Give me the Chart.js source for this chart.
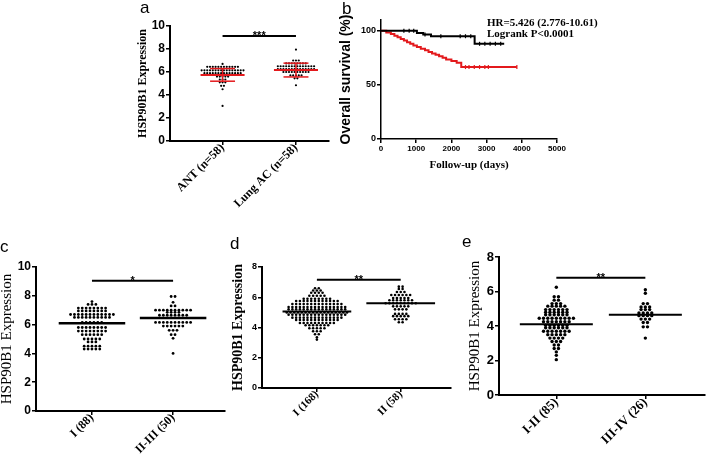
<!DOCTYPE html>
<html>
<head>
<meta charset="utf-8">
<title>HSP90B1 expression</title>
<script src="https://cdn.jsdelivr.net/npm/chart.js@4"></script>
<style>
  body { margin: 0; background: #fff; }
  #fig { position: relative; width: 709px; height: 454px; overflow: hidden; }
  #fig canvas { position: absolute; }
  .lbl { position: absolute; font-family: "Liberation Sans", Arial, sans-serif; font-size: 17px; line-height: 17px; }
  .note { position: absolute; font-family: "Liberation Serif", serif; font-weight: bold; font-size: 11px; line-height: 11px; white-space: nowrap; }
</style>
</head>
<body>
<div id="fig">
  <canvas id="chart-a" width="203" height="217" style="left:137px;top:0px"></canvas>
  <canvas id="chart-b" width="233" height="171" style="left:339px;top:0px"></canvas>
  <canvas id="chart-c" width="232" height="199" style="left:0px;top:255px"></canvas>
  <canvas id="chart-d" width="227" height="193" style="left:231px;top:255px"></canvas>
  <canvas id="chart-e" width="241" height="209" style="left:468px;top:245px"></canvas>
  <div class="lbl" style="left:140px;top:-1px">a</div>
  <div class="lbl" style="left:342px;top:0px">b</div>
  <div class="lbl" style="left:0px;top:238px">c</div>
  <div class="lbl" style="left:230px;top:235px">d</div>
  <div class="lbl" style="left:462px;top:233px">e</div>
  <div class="note" style="left:487px;top:17px">HR=5.426 (2.776-10.61)</div>
  <div class="note" style="left:487px;top:28px">Logrank P&lt;0.0001</div>
</div>
<script>
// ---- panel a: ANT vs lung AC ----
const aCategories = ['ANT (n=58)', 'Lung AC (n=58)'];
const aANT = [6.7,
  6.45, 6.45, 6.45, 6.45, 6.45, 6.45, 6.45, 6.45, 6.45, 6.45, 6.45, 6.45,
  6.15, 6.15, 6.15, 6.15, 6.15, 6.15, 6.15, 6.15, 6.15, 6.15, 6.15, 6.15, 6.15, 6.15, 6.15, 6.15,
  5.9, 5.9, 5.9, 5.9, 5.9, 5.9, 5.9, 5.9, 5.9, 5.9, 5.9, 5.9, 5.9, 5.9,
  5.6, 5.6, 5.6, 5.6, 5.6,
  5.35, 5.35, 5.35,
  5.1, 5.1, 5.1,
  4.8, 4.8,
  4.5,
  3.05];
const aLungAC = [7.95,
  7.0, 7.0, 7.0,
  6.75, 6.75, 6.75, 6.75, 6.75, 6.75, 6.75, 6.75,
  6.5, 6.5, 6.5, 6.5, 6.5, 6.5, 6.5, 6.5, 6.5, 6.5, 6.5, 6.5, 6.5, 6.5,
  6.25, 6.25, 6.25, 6.25, 6.25, 6.25, 6.25, 6.25, 6.25, 6.25, 6.25, 6.25, 6.25, 6.25,
  6.0, 6.0, 6.0, 6.0, 6.0, 6.0, 6.0, 6.0, 6.0, 6.0,
  5.7, 5.7, 5.7, 5.7, 5.7,
  5.45, 5.45,
  4.85];
const aMean = [5.75, 6.17];
const aSD = [0.55, 0.6];
const aYTicks = [0, 2, 4, 6, 8, 10];
const aSigLevel = 9.13;

// ---- panel b: overall survival ----
const bLowTimes = [0, 1020, 1200, 1420, 2660, 3500];
const bLowSurv = [100, 98, 96.5, 95, 88, 88];
const bLowCensor = [650, 800, 930, 1250, 1700, 2250, 2400, 2550, 2800, 2950, 3100, 3250, 3400];
const bHighTimes = [0, 150, 280, 380, 470, 560, 650, 740, 830, 920, 1020, 1130, 1250, 1350, 1450, 1550, 1650, 1750, 1850, 2000, 2150, 2280, 3860];
const bHighSurv = [100, 98.5, 97, 95.5, 94, 92.5, 91, 89.5, 88, 86.5, 85, 83.5, 82, 80.5, 79, 77.8, 76.5, 75, 73.5, 72, 70.5, 66.5, 66.5];
const bHighCensor = [2400, 2500, 2650, 2800, 2950, 3050, 3860];
const bXTicks = [0, 1000, 2000, 3000, 4000, 5000];
const bYTicks = [0, 50, 100];

// ---- panel c: stage I vs II-III ----
const cCategories = ['I (88)', 'II-III (50)'];
const cStageI = [7.6,
  7.4, 7.4, 7.4,
  7.15, 7.15, 7.15, 7.15, 7.15, 7.15, 7.15, 7.15,
  6.95, 6.95, 6.95, 6.95, 6.95, 6.95, 6.95, 6.95,
  6.7, 6.7, 6.7, 6.7, 6.7, 6.7, 6.7, 6.7, 6.7, 6.7, 6.7, 6.7,
  6.5, 6.5, 6.5, 6.5, 6.5, 6.5, 6.5, 6.5, 6.5, 6.5,
  6.15, 6.15, 6.15, 6.15, 6.15, 6.15,
  5.8, 5.8, 5.8, 5.8, 5.8, 5.8, 5.8, 5.8,
  5.55, 5.55, 5.55, 5.55, 5.55, 5.55, 5.55, 5.55,
  5.3, 5.3, 5.3, 5.3, 5.3, 5.3,
  5.0, 5.0, 5.0, 5.0, 5.0,
  4.8, 4.8, 4.8,
  4.5, 4.5, 4.5, 4.5, 4.5,
  4.3, 4.3, 4.3, 4.3, 4.3];
const cStageII = [7.95, 7.95,
  7.55,
  7.3, 7.3,
  7.0, 7.0, 7.0, 7.0, 7.0, 7.0, 7.0, 7.0, 7.0, 7.0,
  6.85, 6.85, 6.85, 6.85,
  6.65, 6.65, 6.65, 6.65, 6.65, 6.65, 6.65, 6.65,
  6.15, 6.15, 6.15, 6.15, 6.15, 6.15, 6.15, 6.15, 6.15, 6.15,
  5.9, 5.9, 5.9, 5.9, 5.9, 5.9,
  5.6, 5.6, 5.6,
  5.3, 5.3,
  5.05,
  4.0];
const cMean = [6.1, 6.45];
const cYTicks = [0, 2, 4, 6, 8, 10];
const cSigLevel = 9.05;

// ---- panel d: stage I vs II ----
const dCategories = ['I (168)', 'II (58)'];
const dStageI = [6.6, 6.6,
  6.45, 6.45, 6.45,
  6.3, 6.3, 6.3, 6.3,
  6.1, 6.1, 6.1, 6.1, 6.1,
  5.9, 5.9, 5.9, 5.9, 5.9, 5.9, 5.9, 5.9,
  5.75, 5.75, 5.75, 5.75, 5.75, 5.75, 5.75, 5.75, 5.75, 5.75, 5.75, 5.75,
  5.55, 5.55, 5.55, 5.55, 5.55, 5.55, 5.55, 5.55, 5.55, 5.55, 5.55, 5.55, 5.55, 5.55,
  5.35, 5.35, 5.35, 5.35, 5.35, 5.35, 5.35, 5.35, 5.35, 5.35, 5.35, 5.35, 5.35, 5.35, 5.35, 5.35,
  5.2, 5.2, 5.2, 5.2, 5.2, 5.2, 5.2, 5.2, 5.2, 5.2, 5.2, 5.2, 5.2, 5.2, 5.2, 5.2,
  5.0, 5.0, 5.0, 5.0, 5.0, 5.0, 5.0, 5.0, 5.0, 5.0, 5.0, 5.0, 5.0, 5.0, 5.0, 5.0, 5.0,
  4.85, 4.85, 4.85, 4.85, 4.85, 4.85, 4.85, 4.85, 4.85, 4.85, 4.85, 4.85, 4.85, 4.85, 4.85, 4.85,
  4.65, 4.65, 4.65, 4.65, 4.65, 4.65, 4.65, 4.65, 4.65, 4.65, 4.65, 4.65, 4.65, 4.65,
  4.5, 4.5, 4.5, 4.5, 4.5, 4.5, 4.5, 4.5, 4.5, 4.5, 4.5, 4.5,
  4.3, 4.3, 4.3, 4.3, 4.3, 4.3, 4.3, 4.3, 4.3, 4.3,
  4.15, 4.15, 4.15, 4.15, 4.15, 4.15, 4.15,
  3.95, 3.95, 3.95, 3.95, 3.95,
  3.75, 3.75, 3.75,
  3.55, 3.55,
  3.35,
  3.2];
const dStageII = [6.7, 6.7,
  6.55, 6.55,
  6.35, 6.35, 6.35,
  6.15, 6.15, 6.15, 6.15, 6.15, 6.15,
  5.95, 5.95, 5.95, 5.95, 5.95,
  5.8, 5.8, 5.8, 5.8, 5.8, 5.8, 5.8,
  5.6, 5.6, 5.6, 5.6, 5.6, 5.6, 5.6, 5.6, 5.6,
  5.4, 5.4, 5.4, 5.4, 5.4,
  5.2, 5.2, 5.2, 5.2,
  4.9, 4.9, 4.9, 4.9,
  4.75, 4.75, 4.75, 4.75, 4.75,
  4.55, 4.55, 4.55, 4.55,
  4.35, 4.35];
const dMean = [5.05, 5.6];
const dYTicks = [0, 2, 4, 6, 8];
const dSigLevel = 7.15;

// ---- panel e: stage I-II vs III-IV ----
const eCategories = ['I-II (85)', 'III-IV (26)'];
const eStageI = [6.25,
  5.7, 5.7,
  5.5, 5.5,
  5.3, 5.3, 5.3,
  5.15, 5.15, 5.15, 5.15, 5.15,
  4.95, 4.95, 4.95, 4.95, 4.95, 4.95,
  4.8, 4.8, 4.8, 4.8, 4.8, 4.8,
  4.65, 4.65, 4.65, 4.65, 4.65, 4.65,
  4.45, 4.45, 4.45, 4.45, 4.45, 4.45, 4.45, 4.45, 4.45,
  4.25, 4.25, 4.25, 4.25, 4.25, 4.25, 4.25,
  4.05, 4.05, 4.05, 4.05, 4.05, 4.05,
  3.9, 3.9, 3.9, 3.9, 3.9, 3.9,
  3.7, 3.7, 3.7, 3.7, 3.7, 3.7, 3.7,
  3.5, 3.5, 3.5, 3.5, 3.5,
  3.3, 3.3, 3.3, 3.3,
  3.1, 3.1, 3.1,
  2.9, 2.9,
  2.7, 2.7,
  2.5,
  2.3,
  2.05];
const eStageII = [6.1,
  5.9,
  5.3, 5.3,
  5.1, 5.1, 5.1,
  4.95, 4.95, 4.95,
  4.75, 4.75, 4.75, 4.75,
  4.6, 4.6, 4.6, 4.6,
  4.4, 4.4, 4.4,
  4.2, 4.2,
  3.95, 3.95,
  3.3];
const eMean = [4.1, 4.65];
const eYTicks = [0, 2, 4, 6, 8];
const eSigLevel = 6.8;

const SANS = '"Liberation Sans", Arial, sans-serif';
const SERIF = '"Liberation Serif", "Times New Roman", serif';
const RED = '#e3191c';

Chart.defaults.color = '#000';
Chart.defaults.font.family = SANS;

// stars above the significance bar
const sigPlugin = {
    id: 'sig',
    afterDatasetsDraw(chart, args, opts) {
        if (!opts || !opts.text) return;
        const { ctx, scales } = chart;
        ctx.save();
        ctx.font = 'bold 11px ' + SANS;
        ctx.fillStyle = '#000';
        ctx.textAlign = 'center';
        ctx.textBaseline = 'alphabetic';
        ctx.fillText(opts.text, scales.x.getPixelForValue(opts.x), scales.y.getPixelForValue(opts.y) + 3);
        ctx.restore();
    }
};

// values in the same row are spread sideways round the group centre
function swarm(values, center, dx) {
    const rows = {};
    values.forEach(v => { (rows[v] = rows[v] || []).push(v); });
    const pts = [];
    Object.values(rows).forEach(row => {
        row.forEach((v, i) => pts.push({ x: center + (i - (row.length - 1) / 2) * dx, y: v }));
    });
    return pts;
}

function seg(x1, y1, x2, y2, color, width) {
    return {
        type: 'line',
        data: [{ x: x1, y: y1 }, { x: x2, y: y2 }],
        borderColor: color, borderWidth: width,
        pointRadius: 0, fill: false
    };
}

function axisStyle(lineWidth) {
    return {
        grid: { display: true, drawOnChartArea: false, drawTicks: true, tickLength: 4, color: '#000', lineWidth: 1.5 },
        border: { display: true, color: '#000', width: lineWidth }
    };
}

function dotChart(id, p) {
    const datasets = [seg(1, p.sigLevel, 2, p.sigLevel, '#000', 2)];
    p.means.forEach((m, i) => {
        datasets.push(seg(i + 1 - p.meanHalf, m, i + 1 + p.meanHalf, m, p.meanColor, p.meanWidth));
        if (p.sd) {
            const lo = m - p.sd[i], hi = m + p.sd[i];
            datasets.push(seg(i + 1, lo, i + 1, hi, p.meanColor, 1.5));
            datasets.push(seg(i + 1 - p.capHalf, hi, i + 1 + p.capHalf, hi, p.meanColor, 1.5));
            datasets.push(seg(i + 1 - p.capHalf, lo, i + 1 + p.capHalf, lo, p.meanColor, 1.5));
        }
    });
    p.groups.forEach((vals, i) => {
        datasets.push({
            type: 'scatter',
            data: swarm(vals, i + 1, p.dx),
            pointRadius: p.r, pointBackgroundColor: '#000', pointBorderWidth: 0
        });
    });

    new Chart(document.getElementById(id), {
        type: 'scatter',
        data: { datasets },
        options: {
            responsive: false, animation: false, devicePixelRatio: 1,
            layout: { padding: { top: p.padTop, right: p.padRight, left: 0, bottom: 0 } },
            plugins: {
                legend: { display: false }, tooltip: { enabled: false },
                sig: { text: p.sigText, x: 1.5, y: p.sigLevel }
            },
            scales: {
                x: Object.assign({
                    type: 'linear', min: p.xMin, max: p.xMax,
                    afterBuildTicks: s => { s.ticks = p.categories.map((c, i) => ({ value: i + 1 })); },
                    afterFit: s => { s.height = p.xH; },
                    ticks: {
                        callback: (v, i) => p.categories[i],
                        minRotation: 45, maxRotation: 45, autoSkip: false, padding: -4,
                        font: { family: SERIF, weight: 'bold', size: p.xFont }
                    }
                }, axisStyle(2)),
                y: Object.assign({
                    min: 0, max: p.yMax,
                    afterBuildTicks: s => { s.ticks = p.yTicks.map(v => ({ value: v })); },
                    afterFit: s => { s.width = p.yW; },
                    ticks: { padding: 1, font: { family: SANS, weight: 'bold', size: p.yFont } },
                    title: {
                        display: true, text: 'HSP90B1 Expression', padding: 0,
                        font: { family: SERIF, weight: p.titleWeight, size: p.titleSize, lineHeight: 1 }
                    }
                }, axisStyle(2))
            }
        },
        plugins: [sigPlugin]
    });
}

dotChart('chart-a', {
    categories: aCategories, groups: [aANT, aLungAC], means: aMean, sd: aSD,
    yTicks: aYTicks, yMax: 10, sigLevel: aSigLevel, sigText: '***',
    meanColor: RED, meanWidth: 2, meanHalf: 0.3, capHalf: 0.17,
    dx: 0.038, r: 1.1, xMin: 0.284, xMax: 2.45,
    padTop: 26, padRight: 11, yW: 33, xH: 76,
    xFont: 12, yFont: 12, titleSize: 12, titleWeight: 'bold'
});

dotChart('chart-c', {
    categories: cCategories, groups: [cStageI, cStageII], means: cMean,
    yTicks: cYTicks, yMax: 10, sigLevel: cSigLevel, sigText: '*',
    meanColor: '#000', meanWidth: 2.5, meanHalf: 0.41,
    dx: 0.048, r: 1.4, xMin: 0.31, xMax: 2.64,
    padTop: 12, padRight: 7, yW: 36, xH: 43,
    xFont: 12, yFont: 12, titleSize: 15, titleWeight: 'normal'
});

dotChart('chart-d', {
    categories: dCategories, groups: [dStageI, dStageII], means: dMean,
    yTicks: dYTicks, yMax: 8, sigLevel: dSigLevel, sigText: '**',
    meanColor: '#000', meanWidth: 2, meanHalf: 0.41,
    dx: 0.045, r: 1.3, xMin: 0.345, xMax: 2.6,
    padTop: 12, padRight: 7, yW: 31, xH: 60,
    xFont: 11, yFont: 9, titleSize: 14, titleWeight: 'bold'
});

dotChart('chart-e', {
    categories: eCategories, groups: [eStageI, eStageII], means: eMean,
    yTicks: eYTicks, yMax: 8, sigLevel: eSigLevel, sigText: '**',
    meanColor: '#000', meanWidth: 2, meanHalf: 0.41,
    dx: 0.048, r: 1.7, xMin: 0.356, xMax: 2.67,
    padTop: 12, padRight: 2, yW: 31, xH: 59,
    xFont: 13, yFont: 13, titleSize: 15, titleWeight: 'normal'
});

// Kaplan-Meier curves
function survAt(times, surv, t) {
    let s = surv[0];
    times.forEach((ti, i) => { if (ti <= t) s = surv[i]; });
    return s;
}
function kmLine(times, surv, color) {
    return {
        type: 'line', data: times.map((t, i) => ({ x: t, y: surv[i] })),
        stepped: true, borderColor: color, borderWidth: 2, pointRadius: 0, fill: false
    };
}
function kmCensor(censor, times, surv, color) {
    return {
        type: 'scatter', data: censor.map(t => ({ x: t, y: survAt(times, surv, t) })),
        pointStyle: 'line', rotation: 90, pointRadius: 2, borderColor: color, pointBorderWidth: 1.2
    };
}

new Chart(document.getElementById('chart-b'), {
    type: 'scatter',
    data: {
        datasets: [
            kmCensor(bLowCensor, bLowTimes, bLowSurv, '#000'),
            kmCensor(bHighCensor, bHighTimes, bHighSurv, RED),
            kmLine(bLowTimes, bLowSurv, '#000'),
            kmLine(bHighTimes, bHighSurv, RED)
        ]
    },
    options: {
        responsive: false, animation: false, devicePixelRatio: 1,
        layout: { padding: { top: 20, right: 15, left: 0, bottom: 0 } },
        plugins: { legend: { display: false }, tooltip: { enabled: false } },
        scales: {
            x: Object.assign({
                type: 'linear', min: 0, max: 5000,
                afterBuildTicks: s => { s.ticks = bXTicks.map(v => ({ value: v })); },
                afterFit: s => { s.height = 32; },
                ticks: { padding: 1, maxRotation: 0, font: { family: SANS, weight: 'bold', size: 8 }, callback: v => String(v) },
                title: { display: true, text: 'Follow-up (days)', padding: 0, font: { family: SERIF, weight: 'bold', size: 11, lineHeight: 1 } }
            }, axisStyle(1.5)),
            y: Object.assign({
                min: 0, max: 110,
                afterBuildTicks: s => { s.ticks = bYTicks.map(v => ({ value: v })); },
                afterFit: s => { s.width = 42; },
                ticks: { padding: 1, font: { family: SANS, weight: 'bold', size: 9 } },
                title: { display: true, text: 'Overall survival (%)', padding: 0, font: { family: SANS, weight: 'bold', size: 14, lineHeight: 1 } }
            }, axisStyle(1.5))
        }
    }
});
</script>
</body>
</html>
